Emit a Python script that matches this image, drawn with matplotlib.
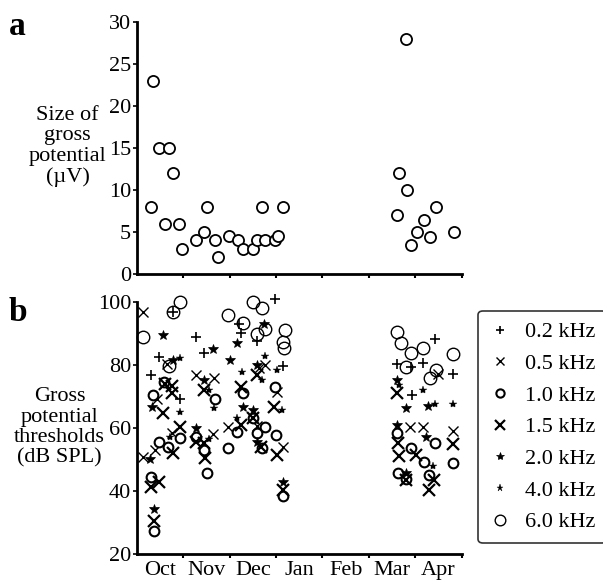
import numpy as np
import matplotlib
matplotlib.use("Agg")
import matplotlib.pyplot as plt
from matplotlib.lines import Line2D

plt.rcParams['font.family'] = ['Liberation Serif', 'DejaVu Serif']

months = ["Oct", "Nov", "Dec", "Jan", "Feb", "Mar", "Apr"]

# panel a: size of gross potential (uV), x in months since 1 Oct
size_x = [0.30, 0.36, 0.47, 0.70, 0.78, 0.61, 0.92, 0.98, 1.28, 1.45, 1.52, 1.69,
          1.76, 1.98, 2.18, 2.28, 2.51, 2.59, 2.69, 2.77, 2.98, 3.05, 3.15,
          5.79, 5.66, 5.83, 5.60, 6.44, 6.18, 6.03, 6.31, 5.91, 6.84]
size_y = [8, 23, 15, 15, 12, 6, 6, 3, 4, 5, 8, 4,
          2, 4.5, 4, 3, 3, 4, 8, 4, 4, 4.5, 8,
          28, 12, 10, 7, 8, 6.4, 5, 4.4, 3.5, 5]

# panel b: thresholds (dB SPL) per frequency
f02_x = [0.78, 0.47, 0.30, 1.28, 1.45, 2.20, 2.25, 2.59, 2.98, 3.15, 0.93,
         5.60, 6.43, 6.16, 6.82, 5.93, 5.90]
f02_y = [96.8, 82.5, 76.7, 88.7, 83.8, 93, 90, 87.5, 101, 79.6, 69.3,
         80.4, 88.3, 80.6, 77, 70.4, 79.3]

f05_x = [0.14, 0.65, 0.43, 0.13, 0.39, 0.75, 1.28, 1.67, 1.65, 1.97, 2.77, 2.63,
         2.59, 3.02, 3.15, 5.88, 6.16, 6.82, 6.48]
f05_y = [96.8, 80.4, 69.3, 50.8, 53, 58.5, 76.7, 75.7, 58, 60.3, 80, 79,
         60.5, 71.5, 54, 60.2, 60.3, 59, 77]

f10_x = [0.59, 0.36, 0.30, 0.49, 0.68, 0.93, 1.28, 1.45, 1.52, 1.69, 1.97, 2.30,
         2.17, 2.50, 2.59, 2.77, 2.69, 2.98, 3.00, 3.16, 0.37, 5.60, 5.90, 6.43,
         6.18, 6.81, 5.62, 5.80, 6.29]
f10_y = [74.6, 70.4, 44.5, 55.6, 54, 56.7, 57, 53, 45.8, 69, 53.7, 70.9,
         58.8, 63, 58.4, 60.3, 53.5, 73, 57.7, 38.4, 27.4, 58.5, 53.5, 55.3,
         49.2, 48.7, 45.8, 43.7, 45]

f15_x = [0.62, 0.75, 0.57, 0.30, 0.47, 0.37, 0.78, 0.93, 1.45, 1.28, 1.45, 1.47,
         2.24, 2.59, 2.24, 2.51, 2.68, 2.96, 3.02, 3.16, 5.60, 5.62, 5.64, 6.02,
         6.82, 5.80, 6.41, 6.29, 0.75]
f15_y = [74, 73.2, 64.6, 41.3, 42.9, 30.6, 51.9, 60.3, 72, 55.4, 55.1, 50.3,
         73, 76.7, 61, 63, 54, 66.7, 51.4, 40.3, 70.9, 55.3, 51, 51.4,
         55, 43.4, 43.4, 40.3, 71]

f20_x = [0.57, 0.79, 0.32, 0.29, 0.37, 1.65, 1.45, 1.28, 2.01, 2.17, 2.74, 2.59,
         2.28, 2.50, 2.59, 3.16, 5.60, 5.80, 6.28, 5.60, 6.22, 5.80]
f20_y = [89.4, 81.5, 66.7, 50, 34.2, 84.9, 75.1, 60.1, 81.5, 87, 92.8, 80,
         66.7, 65.5, 55.6, 42.9, 75.1, 66.4, 67, 60.9, 57.2, 45.6]

f40_x = [0.93, 0.72, 0.93, 1.55, 1.67, 1.55, 2.77, 3.02, 2.69, 2.27, 2.17, 3.13,
         5.64, 6.16, 6.43, 6.82, 6.39]
f40_y = [82.0, 57.2, 65.1, 72, 66.2, 56.6, 82.7, 78.3, 75.1, 77.7, 63, 65.5,
         73.5, 72, 67.6, 67.5, 48]

f60_x = [0.13, 0.93, 0.78, 0.70, 1.97, 2.51, 2.69, 2.28, 2.59, 2.77, 3.20, 3.16,
         3.17, 5.60, 5.69, 5.90, 6.16, 6.81, 5.80, 6.44, 6.31]
f60_y = [88.7, 100, 96.8, 79.6, 95.7, 100, 97.9, 93.1, 89.9, 91.5, 91, 87.3,
         85.2, 90.4, 86.8, 83.6, 85.2, 83.4, 79.3, 78.3, 75.7]

labels = ["0.2 kHz", "0.5 kHz", "1.0 kHz", "1.5 kHz", "2.0 kHz", "4.0 kHz", "6.0 kHz"]

fs = 16
fig = plt.figure(figsize=(6.03, 5.84), dpi=100)
ax1 = fig.add_axes([0.2267, 0.5308, 0.539, 0.432])
ax2 = fig.add_axes([0.2267, 0.0514, 0.539, 0.432])

for ax in (ax1, ax2):
    ax.spines['top'].set_visible(False)
    ax.spines['right'].set_visible(False)
    ax.spines['left'].set_linewidth(2)
    ax.spines['bottom'].set_linewidth(2)
    ax.set_xlim(0, 7)
    ax.set_xticks(np.arange(1, 8))
    ax.set_xticklabels([])
    ax.tick_params(axis='x', which='major', direction='out', length=3, width=1.5)
    ax.tick_params(axis='y', direction='out', length=3, width=1.2, pad=1, labelsize=fs)

ax1.set_ylim(0, 30)
ax1.set_yticks([0, 5, 10, 15, 20, 25, 30])
ax1.plot(size_x, size_y, 'o', mfc='white', mec='black', ms=8, mew=1.3, clip_on=False)

ax2.set_ylim(20, 100)
ax2.set_yticks([20, 40, 60, 80, 100])
ax2.set_xticks(np.arange(7) + 0.5, minor=True)
ax2.set_xticklabels(months, minor=True)
ax2.tick_params(axis='x', which='minor', length=0, labelsize=fs, pad=5)

styles = [
    dict(marker='+', ms=7, mew=1.2),
    dict(marker='x', ms=7, mew=1.0),
    dict(marker='o', ms=7, mew=1.5, mfc='white'),
    dict(marker='x', ms=9, mew=1.6),
    dict(marker='*', ms=7, mew=0.5),
    dict(marker='*', ms=6, mew=0.3),
    dict(marker='o', ms=9, mew=1.0, mfc='none'),
]
series = [(f02_x, f02_y), (f05_x, f05_y), (f10_x, f10_y), (f15_x, f15_y),
          (f20_x, f20_y), (f40_x, f40_y), (f60_x, f60_y)]
handles = []
for (sx, sy), st, lab in zip(series, styles, labels):
    ax2.plot(sx, sy, ls='none', color='black', mec='black', clip_on=False, **st)
    hs = dict(st)
    hs['ms'] = st['ms'] * 0.85
    handles.append(Line2D([], [], ls='none', color='black', mec='black', **hs))

leg = fig.legend(handles, labels, loc='upper left', bbox_to_anchor=(0.793, 0.468),
                 fontsize=fs, frameon=True, fancybox=True, handlelength=1.0,
                 handletextpad=0.6, labelspacing=0.5, borderpad=0.5,
                 borderaxespad=0)
leg.get_frame().set_edgecolor('black')
leg.get_frame().set_linewidth(1.2)

fig.text(0.112, 0.749, "Size of\ngross\npotential\n(\u00b5V)", ha='center', va='center',
         fontsize=fs, linespacing=1.1)
fig.text(0.099, 0.268, "Gross\npotential\nthresholds\n(dB SPL)", ha='center', va='center',
         fontsize=fs, linespacing=1.1)
fig.text(0.015, 0.94, "a", fontsize=24, fontweight='bold')
fig.text(0.015, 0.45, "b", fontsize=24, fontweight='bold')

fig.savefig("out.png", dpi=100)
